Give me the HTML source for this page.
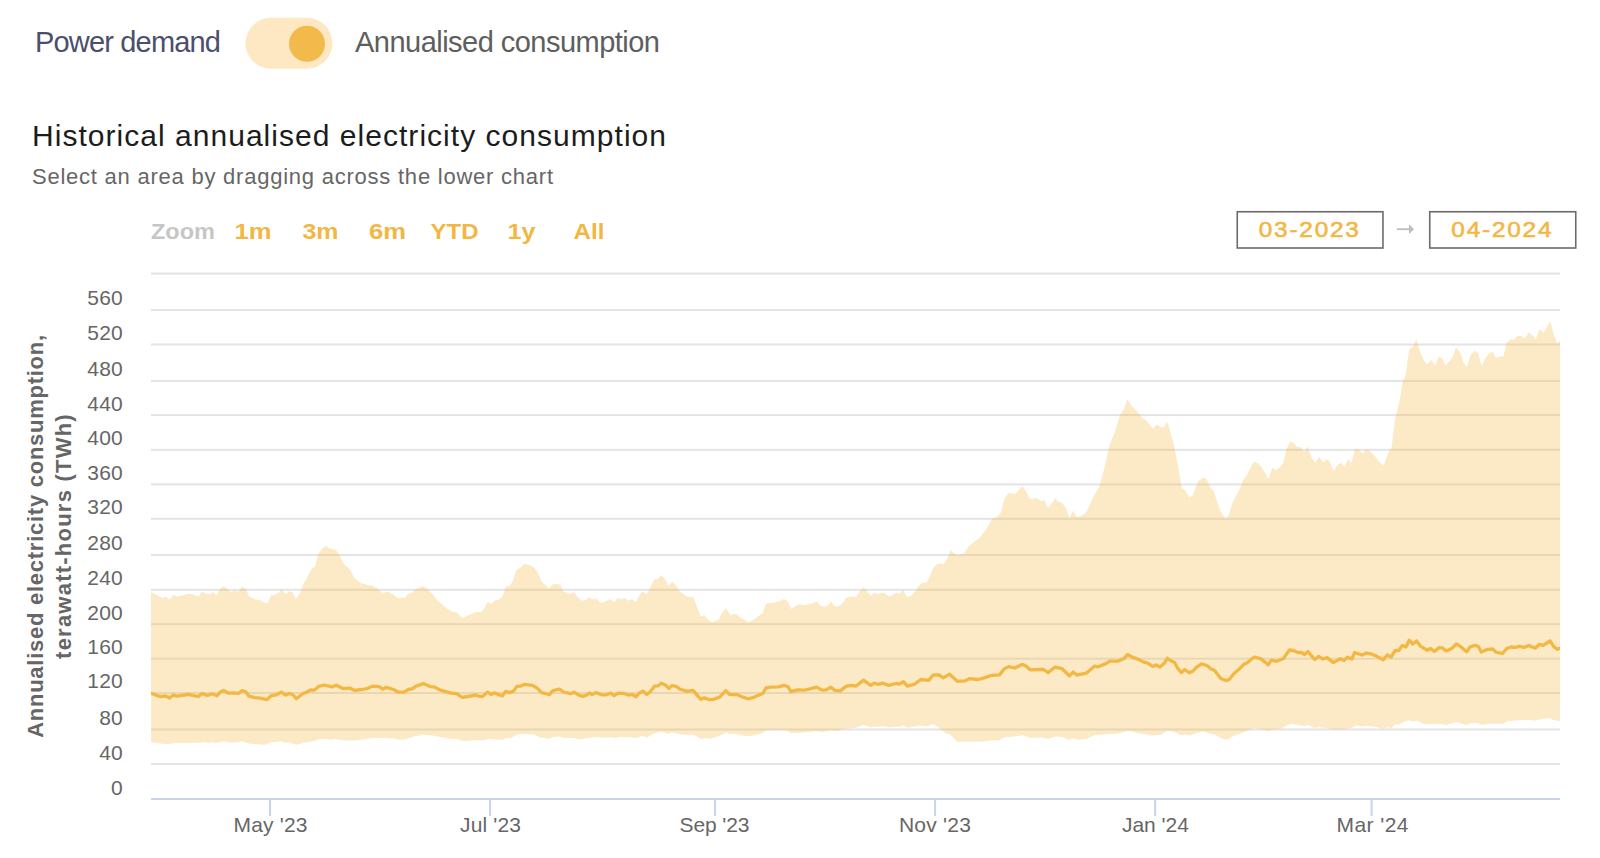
<!DOCTYPE html>
<html><head><meta charset="utf-8"><style>
html,body{margin:0;padding:0;background:#fff;width:1600px;height:858px;overflow:hidden}
svg{position:absolute;left:0;top:0}
text{font-family:"Liberation Sans",sans-serif}
</style></head><body>
<svg width="1600" height="858" viewBox="0 0 1600 858">
<defs><clipPath id="pc"><rect x="151" y="260" width="1409" height="538"/></clipPath></defs>
<rect x="245.5" y="17.8" width="87" height="51" rx="25.5" fill="#fde8c3"/>
<circle cx="307" cy="43.8" r="18.05" fill="#f2ba4a"/>
<rect x="1237.25" y="211.75" width="145.7" height="36.25" fill="none" stroke="#6b6b6b" stroke-width="1.6"/>
<rect x="1429.75" y="211.75" width="146" height="36.25" fill="none" stroke="#6b6b6b" stroke-width="1.6"/>
<rect x="1396.8" y="228.3" width="12.7" height="1.8" fill="#bdbdbd"/>
<path d="M1409 224.3 L1414.1 229.2 L1409 234.1 Z" fill="#bdbdbd"/>
<text id="pd" x="35" y="51.5" textLength="186" lengthAdjust="spacing" font-size="29" fill="#4b4f6b">Power demand</text><text id="ac" x="355" y="51.5" textLength="305" lengthAdjust="spacing" font-size="29" fill="#5e5e5e">Annualised consumption</text><text id="ti" x="32" y="145.6" textLength="634" lengthAdjust="spacing" font-size="30" fill="#1c1c1c">Historical annualised electricity consumption</text><text id="su" x="32" y="183.8" textLength="521" lengthAdjust="spacing" font-size="22" fill="#666666">Select an area by dragging across the lower chart</text><text id="zo" x="151" y="239.2" textLength="64" lengthAdjust="spacingAndGlyphs" font-size="22" font-weight="bold" fill="#c6c6c6">Zoom</text><text id="b1" x="234.6" y="239.2" textLength="37" lengthAdjust="spacingAndGlyphs" font-size="22" font-weight="bold" fill="#f2b643">1m</text><text id="b3" x="302.5" y="239.2" textLength="36" lengthAdjust="spacingAndGlyphs" font-size="22" font-weight="bold" fill="#f2b643">3m</text><text id="b6" x="369" y="239.2" textLength="37" lengthAdjust="spacingAndGlyphs" font-size="22" font-weight="bold" fill="#f2b643">6m</text><text id="by" x="430.6" y="239.2" textLength="48" lengthAdjust="spacingAndGlyphs" font-size="22" font-weight="bold" fill="#f2b643">YTD</text><text id="b1y" x="507.6" y="239.2" textLength="28" lengthAdjust="spacingAndGlyphs" font-size="22" font-weight="bold" fill="#f2b643">1y</text><text id="ba" x="573.4" y="239.2" textLength="31" lengthAdjust="spacingAndGlyphs" font-size="22" font-weight="bold" fill="#f2b643">All</text><text id="d1" x="1258.7" y="237.3" textLength="102" lengthAdjust="spacingAndGlyphs" font-size="22" fill="#f2b643" stroke="#f2b643" stroke-width="0.55" letter-spacing="1.6">03-2023</text><text id="d2" x="1451.3" y="237.3" textLength="102" lengthAdjust="spacingAndGlyphs" font-size="22" fill="#f2b643" stroke="#f2b643" stroke-width="0.55" letter-spacing="1.6">04-2024</text><text id="xm" x="233.5" y="832.2" textLength="74" lengthAdjust="spacing" font-size="21" fill="#666666">May '23</text><text id="xj" x="460" y="832.2" textLength="61" lengthAdjust="spacing" font-size="21" fill="#666666">Jul '23</text><text id="xs" x="679.5" y="832.2" textLength="70" lengthAdjust="spacing" font-size="21" fill="#666666">Sep '23</text><text id="xn" x="898.9" y="832.2" textLength="72" lengthAdjust="spacing" font-size="21" fill="#666666">Nov '23</text><text id="xja" x="1121.9" y="832.2" textLength="67" lengthAdjust="spacing" font-size="21" fill="#666666">Jan '24</text><text id="xma" x="1336.5" y="832.2" textLength="72" lengthAdjust="spacing" font-size="21" fill="#666666">Mar '24</text>
<rect x="151" y="763.1" width="1409" height="2" fill="#e4e4e4"/><rect x="151" y="728.5" width="1409" height="2" fill="#e4e4e4"/><rect x="151" y="692" width="1409" height="2" fill="#e4e4e4"/><rect x="151" y="657.7" width="1409" height="2" fill="#e4e4e4"/><rect x="151" y="623.2" width="1409" height="2" fill="#e4e4e4"/><rect x="151" y="588.8" width="1409" height="2" fill="#e4e4e4"/><rect x="151" y="554" width="1409" height="2" fill="#e4e4e4"/><rect x="151" y="517.8" width="1409" height="2" fill="#e4e4e4"/><rect x="151" y="483.4" width="1409" height="2" fill="#e4e4e4"/><rect x="151" y="448.8" width="1409" height="2" fill="#e4e4e4"/><rect x="151" y="414.1" width="1409" height="2" fill="#e4e4e4"/><rect x="151" y="379.9" width="1409" height="2" fill="#e4e4e4"/><rect x="151" y="343.5" width="1409" height="2" fill="#e4e4e4"/><rect x="151" y="309" width="1409" height="2" fill="#e4e4e4"/><rect x="151" y="272.6" width="1409" height="2" fill="#e4e4e4"/>
<path d="M151 592.8 L154.5 593.5 L159 596.5 L162.5 597.8 L166 596.8 L169.5 599.8 L173.5 594.8 L177 596.5 L181 595.5 L184 595.2 L188 593.5 L193 594.5 L198.5 596.5 L202 591.5 L206 594 L209.5 594.2 L213 592 L216.5 595.5 L220 589 L223.8 586 L229 591 L231 591.8 L235 590.5 L238.5 591.8 L242.5 586.5 L246 589 L249 596.5 L256 599.5 L260 600 L264 602.5 L267.5 603.2 L271 595.5 L275 594.8 L279 592.5 L281.8 589.5 L285.5 594.2 L289.5 591 L292.5 592.5 L296.2 599.2 L300 593 L304 582.5 L307 578 L311 569.5 L315 566.5 L318 555 L321 550 L325.5 545.8 L330 548.5 L336 550 L340 556 L343.5 563.5 L350.5 570 L354 578 L361.5 583.5 L364 583.8 L369 585.5 L372.5 585.8 L379 589.5 L383 594 L386.5 591.2 L393.5 594.5 L397.5 598 L401 597.5 L404.5 598 L408.5 593.8 L412.5 592.5 L416 589 L419 588 L422.8 586 L426 588 L433 594.5 L437 600 L444 606 L447.5 609 L452 611.5 L455 612 L458.5 614 L462.5 618.2 L466 616.2 L476.5 611.8 L480.5 612.5 L484.5 608.5 L487.5 602 L491.5 604 L495 600.5 L498.5 600 L502.5 596.5 L506 586.5 L509.5 586 L513 580.8 L516.5 569.8 L520.5 567.8 L524 564 L531 565.5 L535 568.5 L538.5 574.5 L542 582 L545.5 585 L549 589 L553 583.8 L560 584.5 L563.5 591.5 L567 592.5 L570.5 594 L574 592 L578 597.5 L582 600.5 L585 600.5 L589 597.2 L592.5 599.5 L596 598.2 L600 602.2 L603 602.8 L610 599 L614 602.2 L618 598 L621 599.2 L624.5 598 L628.5 600.8 L632 599.2 L635.8 602.2 L639.5 595 L643 591.2 L646.5 594.5 L650 588.5 L654 579.8 L657.5 579 L661.5 575 L664.5 578.5 L668.5 585.5 L672.5 582 L676 585.5 L680 591.5 L686 596.2 L693.5 597.5 L697 607 L701 617 L704.5 615 L708 620 L712 622 L718.5 619.8 L722.5 612.5 L726 608.2 L730 615 L734 614 L737 614.2 L740.5 618 L744 619.2 L748 622.2 L752 620.5 L756 617.8 L762 613.8 L766 604 L770 603 L776 602.5 L780 601 L784 599 L787.5 601 L791.2 609 L795 606.2 L799 604.5 L805 605.2 L809 604 L813 603.5 L816.5 601 L820 605.2 L824 607 L827.5 605.8 L831 601.5 L834.5 605.8 L838 606.8 L842.5 603.5 L846 598 L850 596.5 L856 597 L860 591 L863.5 587.5 L867 591 L870.8 596 L874.5 592.5 L878 594.2 L882 592.5 L885 593.5 L889 596.2 L892.5 595.2 L896 592.8 L899.5 593.8 L903 589.8 L907 597 L910.5 596 L915 592 L918 587 L921.9 582.6 L925.1 583.2 L928.3 580 L932.2 569.7 L936 564.9 L939.9 563.1 L943.1 564.6 L946.9 559.5 L950.5 550.3 L954.6 554.1 L957.8 555.6 L964.2 553.1 L968.7 546.4 L975.1 540.9 L979.2 538.3 L986.7 528.7 L992.4 518.5 L996.9 516.9 L1000.8 512.7 L1004.6 498.6 L1008.5 493.1 L1015.5 494.1 L1019.4 489 L1022.6 486.2 L1025.8 490.9 L1030 499.2 L1036.7 497.9 L1041.2 501.2 L1044.4 499.9 L1047.9 507.9 L1051.4 504.1 L1055.3 498.6 L1059.1 502.1 L1062.3 503.1 L1066.2 508.8 L1069.4 517.8 L1073.2 510.5 L1076.6 516.9 L1081.5 515.9 L1086.4 512.3 L1092.9 497.6 L1099.5 486.2 L1104.4 468.3 L1109.3 445.5 L1114.1 434 L1119.9 415.3 L1123.9 409.2 L1127.5 399 L1131.3 405.5 L1137 411.2 L1141.9 417.7 L1146 420.2 L1153 429.1 L1156.6 424.6 L1160.6 427.2 L1163.9 427.2 L1167.2 421.3 L1174.2 446.3 L1177.8 465 L1181.8 487.9 L1185.1 490.3 L1189.2 497.3 L1192.4 495.7 L1198.1 481.3 L1203.9 477.3 L1206.8 479.4 L1210.4 487.5 L1213.6 491.1 L1220.2 510.7 L1225.1 518 L1228.3 515.9 L1232.6 502.7 L1239.6 489.2 L1243.5 479.2 L1246.7 475.4 L1250.5 467.4 L1254.1 461.7 L1258.2 463.6 L1262.1 467.7 L1265.3 473.2 L1268.5 479.6 L1272.3 467.7 L1275.5 470 L1279.4 467.7 L1282.8 464.2 L1286.4 449.5 L1290.3 441.2 L1294.1 443.3 L1297.3 447.2 L1300.5 446.9 L1304.4 452.3 L1307.6 446.3 L1311.4 457.2 L1315.3 462.9 L1319.1 456.5 L1323 462.3 L1326.8 459.5 L1329.7 461.3 L1333.6 471 L1337.1 465.5 L1340.9 462.6 L1344.4 467.2 L1348 459.1 L1351.5 462.9 L1355 448.8 L1358.8 449.5 L1362.7 453.6 L1366.5 449.7 L1370.4 451.4 L1374.9 456.2 L1380.6 463.3 L1383.8 465.5 L1387.8 453.6 L1391.5 448 L1395.3 418.2 L1399 403.3 L1402.7 381.8 L1405.5 375.3 L1409.2 349.2 L1413 346.9 L1416.3 338.9 L1420.4 352.9 L1424.2 360.7 L1427.5 364.5 L1431.3 360 L1435 366 L1438.7 356.6 L1441.9 358.1 L1445.6 365.6 L1449.4 361.3 L1453.1 356.3 L1455.9 347.3 L1459.6 351.4 L1463.3 361.9 L1466.7 366.9 L1470.8 354.4 L1474.5 351 L1477.9 352.5 L1481.6 366 L1485.7 357.6 L1489.5 353.3 L1492.8 352 L1496 358.1 L1499.7 356.6 L1503.4 356.3 L1507.2 342.1 L1510.9 338.9 L1514.1 339.8 L1517.8 335.7 L1521.2 336.1 L1524.9 338.4 L1528.6 332.4 L1532.4 335.2 L1535.7 339.5 L1539.4 329 L1543.6 332.8 L1550.1 321.2 L1553.8 334.2 L1557 343.6 L1560 340.8 L1560 721.1 L1559.6 721.1 L1553.5 720 L1549.7 718 L1540.5 719.1 L1535.9 720.6 L1529.8 720 L1519.1 720.3 L1508.3 721.1 L1502.2 723.7 L1490 723.4 L1481.5 724.9 L1477.7 723.1 L1471.6 723.1 L1466.2 724.9 L1456.3 722.1 L1446.3 724.9 L1439.4 723.7 L1433.3 724.1 L1424.1 724.1 L1416.5 720.6 L1412.6 721.8 L1409.6 720.3 L1403.4 722.1 L1398.9 724.6 L1395 724.6 L1391.2 728 L1388.1 727.2 L1382.8 728.7 L1375.1 726.7 L1367.5 725.7 L1362.1 726.4 L1356 725.2 L1351.4 728 L1343 729.2 L1333.8 729.5 L1326.1 728 L1318.8 727 L1313.8 728 L1308.1 724.8 L1305 726 L1297.5 724.8 L1290 723.9 L1281.2 728.5 L1272.5 729.5 L1268.1 731 L1262.5 729.2 L1253.8 728 L1245 731.4 L1240 733.5 L1232.5 736.4 L1228.8 738.9 L1225 739.8 L1220 737.6 L1215 734.8 L1210 733.5 L1202.5 731.4 L1195 733.5 L1190 735.5 L1185 734.2 L1181.9 735.5 L1175 732 L1167.5 730.8 L1161.2 734.5 L1152.5 735.5 L1143.8 733.9 L1135 732.6 L1127.5 730.5 L1120 733.2 L1110 733.9 L1095 735.1 L1086.2 738.9 L1077.5 739.8 L1073.1 738.2 L1069.4 739.8 L1062.5 737 L1055 736.4 L1047.5 738.9 L1042.5 737.6 L1030 738 L1022.5 735.1 L1012.5 736.8 L1005 737 L998.8 740.5 L990 740.5 L982.5 741.4 L973.8 741.8 L967.5 741.4 L957.5 742 L950 734.2 L946.2 733.5 L942.5 730.8 L937.5 726.8 L932.5 723.9 L928.8 726 L925 726.2 L920 725.6 L907.5 727.8 L903.1 725.6 L898.8 726.9 L896.9 726.5 L890 727.5 L883.1 726.2 L877.5 726.9 L874.4 726.2 L870.6 727.5 L863.8 724.8 L856.2 727.8 L845 728.8 L836.9 731 L831.2 730 L822.5 731.9 L816.2 731 L810 731.9 L802.5 732.5 L791.2 733.1 L788.1 731.2 L784.4 730 L772.5 730.2 L765.6 730.6 L761.2 733.8 L755 735.2 L748.1 736.2 L740 735 L736.2 733.8 L730 734 L726.2 732.5 L718.8 736.2 L710 738.8 L705 738.1 L701.2 739 L693.8 734.8 L687.5 735 L681.2 734.4 L673.1 732.5 L668.1 733.8 L661.2 731.5 L653.8 733.5 L646.9 737.5 L642.5 736 L635.6 738.1 L632.5 737.5 L620 736.9 L615 738.1 L611.2 737.2 L605 737.8 L596.2 737.2 L588.8 737.8 L580 739.4 L573.8 738.1 L563.8 737.8 L559.4 736.5 L552.5 737.2 L548.8 738.8 L540 737.5 L533.8 734.4 L523.8 733.8 L516.2 734.8 L511.2 738.1 L506.2 738.1 L502.5 739.8 L495 739.4 L487.5 739 L482.5 740.6 L476.2 740.2 L462.5 741 L457.5 739 L451.2 739 L442.5 737.5 L432.5 735.6 L423.8 734.8 L415 736.2 L405 739.4 L398.8 739.8 L395 738.8 L386.2 737.8 L380 738.1 L371.2 738.1 L363.8 739.4 L353.8 740.6 L343.8 740.6 L336.2 739 L331.2 739.8 L325 739 L318.1 739.4 L312.5 741.3 L303.8 742.8 L296.2 744.8 L288.8 742.3 L285 742.8 L281.2 741.3 L271.2 742.3 L265 744.8 L250 743.8 L242.5 741.3 L237.5 742.3 L230 742.5 L223.8 741.3 L216.2 743.1 L211.9 742.3 L208.8 742.8 L202.5 741.9 L198.8 742.8 L187.5 742.8 L172.5 743.1 L169.4 744.1 L162.5 743.8 L151.2 741.9 Z" fill="#F5B73E" fill-opacity="0.3"/>
<g clip-path="url(#pc)"><path d="M151.1 693.2 L155.1 694.7 L160.1 696.6 L165.7 696 L169.7 698 L173.1 695.1 L177 696.2 L182.6 695.4 L188.2 694.3 L198.4 696.6 L202 693.5 L207.4 695.4 L212.4 693.8 L216.9 695.8 L220.3 692.1 L223.7 690.4 L228.7 693.2 L234.4 692.8 L238.3 693.5 L242.2 690.6 L245.6 691.7 L249 696.2 L254.6 697.7 L260.2 698.2 L267 699.6 L270.9 695.8 L276 694.9 L281.6 692.1 L285.6 695.1 L289.5 693.5 L292.9 694.7 L296.3 698.8 L303 693.5 L306.9 692.1 L310.9 689.8 L314.2 690.2 L318.7 686.4 L324.4 685 L331.8 686.9 L336.2 685.2 L343 688.6 L349.7 688.1 L354.2 690.3 L362.1 689.5 L367.7 688.4 L372.2 686.1 L379 686.6 L382.9 689.2 L386.3 687.3 L393.6 689.5 L398.1 692.2 L404.3 692.2 L408.2 689.5 L412.2 688.9 L416.1 686.1 L423.4 683.6 L430.2 686.6 L434.1 686.9 L439.7 689.8 L451 693.1 L456.6 693.7 L462.2 697.4 L467.9 696.5 L475.7 695.1 L480.8 696.7 L483.6 695.6 L487.6 692 L490.9 694.5 L494.3 692.9 L502.2 695.9 L505.6 691.4 L509.6 692.6 L513.5 691.1 L516.9 686.4 L520.2 686.2 L524.2 684.4 L532.6 685.3 L537.1 688.1 L541.6 692.6 L546.1 693.7 L549.3 694.8 L552.9 690.6 L559.6 689.2 L563.6 692 L570.3 693.7 L574.2 692.2 L578.7 695.1 L582.7 696.3 L586.1 695.4 L589.4 693.1 L592.2 694.5 L596.2 692.6 L601.2 694.8 L606.3 694.8 L610.8 693.1 L614.2 695.6 L618.1 693.1 L623.7 693.4 L628.8 695.1 L632.2 694.5 L636.1 696.7 L639.5 692.9 L642.9 691.1 L646.8 694.5 L650.2 691.8 L654.7 686.1 L658.1 685.8 L661.4 683.2 L665.4 685 L668.8 688.4 L672.1 685.5 L676.6 686.6 L679.5 689 L687.4 691.3 L693 690.4 L696.9 694.9 L700.9 699.4 L704.2 697.7 L708.7 699.6 L713.2 699.4 L719.4 697.3 L725.8 690.6 L730.1 694.7 L736.3 694.3 L741.4 696.6 L748.1 698.8 L753.7 697.3 L762.7 693.5 L766.1 687.9 L770.6 687.2 L778.5 686.8 L784.1 685.3 L788.1 686.8 L790.9 691.7 L797.6 689.8 L804.4 690.2 L811.1 688.7 L816.7 687.2 L822.4 690.2 L826.3 689.8 L830.8 687.2 L834.7 690.4 L840.4 690.9 L846 686.4 L850.5 685.3 L856.2 686 L863.5 680.1 L870.8 685.4 L874.2 683.2 L878.1 684.3 L882.6 683.2 L888.8 685.4 L896.1 683.5 L899.5 684 L903.4 681.7 L907.4 686.2 L914.1 684.3 L920.9 679.5 L928.7 680.4 L933.2 675 L938.9 675 L943.4 677.9 L949.6 674.2 L957.4 681.3 L964.8 680.9 L969.2 678.7 L978.2 679.5 L985 677.6 L991.7 675.3 L999.6 674.8 L1004.1 668.9 L1008.6 666.6 L1014.8 668 L1022.1 664.4 L1025.5 665.8 L1030.1 669.8 L1038.5 669.5 L1043.6 669.5 L1048.1 672.6 L1054.8 667.2 L1062.1 668.7 L1069.4 675.8 L1073.1 672.1 L1076.7 675.1 L1086.3 673.2 L1094.7 666.1 L1098.1 666.8 L1106 663.6 L1109.9 661.1 L1118.4 661.1 L1124 658.6 L1127.4 654.6 L1133 657.4 L1139.8 660 L1143.1 661.9 L1147.6 663.1 L1152.7 666.4 L1156.1 665 L1160 667 L1164.5 663.1 L1167.3 658.2 L1170.7 660.8 L1174.6 662.5 L1178 668.7 L1181.4 672.6 L1184.7 669.5 L1189.2 672.6 L1192.6 671.5 L1196.6 667.2 L1201.6 663.8 L1207.3 665.8 L1210.7 668.8 L1214.6 670.5 L1220.8 678.4 L1225.9 680.6 L1229.2 679.5 L1233.2 674.4 L1239.4 668.8 L1243.9 664.3 L1247.2 662.8 L1254 657.2 L1260.7 658.7 L1265.2 662.1 L1268.1 664.9 L1271.4 660.2 L1276.5 661.3 L1283.2 658.7 L1289.4 650 L1293.4 650.5 L1297.9 652.5 L1301.2 652.5 L1304.6 654.5 L1307.8 651.6 L1314.7 659.5 L1318.7 656.4 L1322.6 659 L1327.1 657.6 L1333.3 662.6 L1340.1 658.7 L1344 660.6 L1347.4 657.2 L1351.9 659 L1354.7 652.5 L1362 655 L1366.5 653.1 L1372.1 654.2 L1375 655.6 L1383.3 659.7 L1387.5 654.9 L1391 657.1 L1395.2 650.5 L1398.8 650.5 L1402.3 645.4 L1405.9 647 L1409.2 640.2 L1412.8 644 L1416.6 641 L1420.7 646.4 L1427.3 650.2 L1430.6 648.5 L1434.4 651.4 L1439.1 647.6 L1442.1 647.8 L1446 650.9 L1452.2 648.2 L1456.3 644 L1460.5 646.4 L1466.7 651.7 L1470 647 L1474.8 645.4 L1478.3 646.4 L1481.3 652.1 L1487.8 649.3 L1492.6 649 L1496.1 652.3 L1502.7 653.3 L1506.8 648.5 L1511 647 L1515.1 647.3 L1519.3 646.4 L1524.6 647.3 L1528.8 645.4 L1535.3 648.2 L1539.5 644.2 L1543 645.4 L1550.2 641 L1553.7 646.6 L1557.3 649.3 L1559.7 648.2" fill="none" stroke="#F2B843" stroke-width="3.3" stroke-linejoin="round" stroke-linecap="round"/></g>
<rect x="151" y="798" width="1409" height="2" fill="#c9d3ea"/>
<rect x="269.05" y="799" width="2" height="17" fill="#c9d3ea"/><rect x="489" y="799" width="2" height="17" fill="#c9d3ea"/><rect x="714" y="799" width="2" height="17" fill="#c9d3ea"/><rect x="934.1" y="799" width="2" height="17" fill="#c9d3ea"/><rect x="1154.2" y="799" width="2" height="17" fill="#c9d3ea"/><rect x="1370.6" y="799" width="2" height="17" fill="#c9d3ea"/>
<g font-size="21" fill="#666666"><text x="123" y="794.5" text-anchor="end" letter-spacing="0.2">0</text><text x="123" y="759.5" text-anchor="end" letter-spacing="0.2">40</text><text x="123" y="724.9" text-anchor="end" letter-spacing="0.2">80</text><text x="123" y="688.4" text-anchor="end" letter-spacing="0.2">120</text><text x="123" y="654.1" text-anchor="end" letter-spacing="0.2">160</text><text x="123" y="619.6" text-anchor="end" letter-spacing="0.2">200</text><text x="123" y="585.2" text-anchor="end" letter-spacing="0.2">240</text><text x="123" y="550.4" text-anchor="end" letter-spacing="0.2">280</text><text x="123" y="514.2" text-anchor="end" letter-spacing="0.2">320</text><text x="123" y="479.8" text-anchor="end" letter-spacing="0.2">360</text><text x="123" y="445.2" text-anchor="end" letter-spacing="0.2">400</text><text x="123" y="410.5" text-anchor="end" letter-spacing="0.2">440</text><text x="123" y="376.3" text-anchor="end" letter-spacing="0.2">480</text><text x="123" y="339.9" text-anchor="end" letter-spacing="0.2">520</text><text x="123" y="305.4" text-anchor="end" letter-spacing="0.2">560</text></g>
<g font-size="22" font-weight="bold" fill="#666666" text-anchor="middle" letter-spacing="0.74">
<text transform="translate(42.7 536) rotate(-90)" x="0" y="0">Annualised electricity consumption,</text>
<text transform="translate(71 536) rotate(-90)" x="0" y="0" letter-spacing="1.23">terawatt-hours (TWh)</text>
</g>
</svg>
</body></html>
